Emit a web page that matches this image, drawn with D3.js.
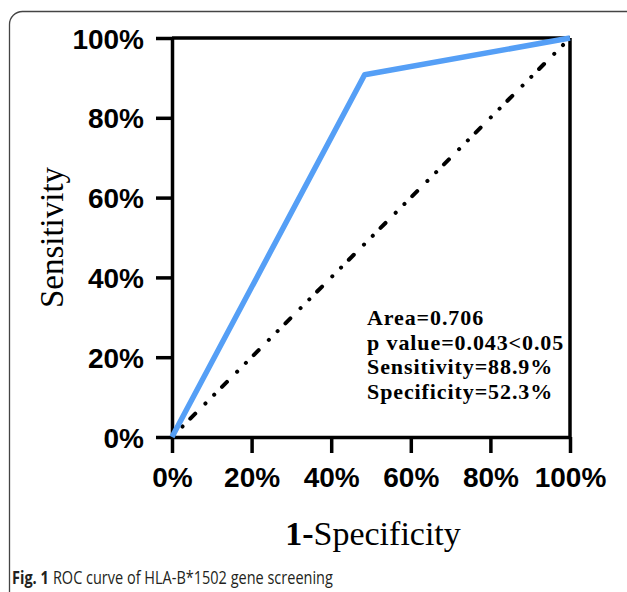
<!DOCTYPE html>
<html><head><meta charset="utf-8">
<script src="https://cdn.jsdelivr.net/npm/d3@7"></script>
<style>body{margin:0;background:#fff}svg{display:block}</style>
</head><body>
<svg id="c" width="627" height="592"></svg>
<script>
const rocX = [0, 0.484, 1];
const rocY = [0, 0.908, 1];
const refX = [0, 1];
const refY = [0, 1];
const tickValues = [0, 0.2, 0.4, 0.6, 0.8, 1];
const tickLabels = ["0%", "20%", "40%", "60%", "80%", "100%"];
const statLines = ["Area=0.706", "p value=0.043<0.05", "Sensitivity=88.9%", "Specificity=52.3%"];
const xTitleBold = "1-";
const xTitleRest = "Specificity";
const yTitle = "Sensitivity";
const captionBold = "Fig. 1";
const captionRest = "ROC curve of HLA-B*1502 gene screening";

const svg = d3.select("#c");
// panel border
svg.append("rect").attr("x", 9.5).attr("y", 11.5).attr("width", 640).attr("height", 600)
  .attr("rx", 13).attr("fill", "none").attr("stroke", "#444").attr("stroke-width", 1.3);

const x = d3.scaleLinear().domain([0, 1]).range([172, 570]);
const y = d3.scaleLinear().domain([0, 1]).range([437, 38]);
const fmt = (d) => tickLabels[tickValues.indexOf(d)];

const g = svg.append("g");
// top & right frame
g.append("line").attr("x1", x(0)).attr("x2", x(1)).attr("y1", y(1)).attr("y2", y(1))
  .attr("stroke", "#000").attr("stroke-width", 3.5);
g.append("line").attr("x1", x(1)).attr("x2", x(1)).attr("y1", y(1)).attr("y2", y(0))
  .attr("stroke", "#000").attr("stroke-width", 3.5);

const xa = g.append("g").attr("transform", `translate(0,${y(0)})`)
  .call(d3.axisBottom(x).tickValues(tickValues).tickFormat(fmt).tickSize(16).tickSizeOuter(0).tickPadding(14));
const ya = g.append("g").attr("transform", `translate(${x(0)},0)`)
  .call(d3.axisLeft(y).tickValues(tickValues).tickFormat(fmt).tickSize(16).tickSizeOuter(0).tickPadding(12));
[xa, ya].forEach(a => {
  a.selectAll("path,line").attr("stroke", "#000").attr("stroke-width", 3.5);
  a.selectAll("text").attr("fill", "#000").style("font-family", "'Liberation Sans', Arial, sans-serif")
    .style("font-weight", "bold").style("font-size", "28px");
});
xa.selectAll("text").attr("dy", "0.71em");
ya.selectAll("text").attr("dy", "0.36em");

// reference diagonal
const line = d3.line().x(d => x(d[0])).y(d => y(d[1]));
g.append("path").datum(refX.map((v, i) => [v, refY[i]])).attr("d", line)
  .attr("fill", "none").attr("stroke", "#000").attr("stroke-width", 4)
  .attr("stroke-linecap", "round").attr("stroke-dasharray", "7,14.4,0.1,12.3,0.1,11")
  .attr("stroke-dashoffset", 19);

// ROC curve
g.append("path").datum(rocX.map((v, i) => [v, rocY[i]])).attr("d", line)
  .attr("fill", "none").attr("stroke", "#559ff6").attr("stroke-width", 5.5)
  .attr("stroke-linejoin", "round");

// stats text
const st = g.append("g");
statLines.forEach((t, i) => {
  st.append("text").attr("x", 367).attr("y", 325 + i * 24.5).text(t)
    .style("font-family", "'Liberation Serif', 'Times New Roman', serif")
    .style("font-weight", "bold").style("font-size", "22px").style("letter-spacing", "0.9px");
});

// axis titles
svg.append("text").attr("transform", `translate(63,${y(0.5)}) rotate(-90)`).attr("text-anchor", "middle")
  .style("font-family", "'Liberation Serif', 'Times New Roman', serif").style("font-size", "33px").text(yTitle);
const xt = svg.append("text").attr("x", x(0.5) + 2).attr("y", 545).attr("text-anchor", "middle")
  .style("font-family", "'Liberation Serif', 'Times New Roman', serif").style("font-size", "34px");
xt.append("tspan").style("font-weight", "bold").text(xTitleBold);
xt.append("tspan").text(xTitleRest);

// caption (condensed by horizontal scale to fit reference width)
const capG = svg.append("g");
const cb = capG.append("text").attr("x", 0).attr("y", 0).attr("fill", "#231f20")
  .style("font-family", "'Open Sans', sans-serif").style("font-size", "17.5px").style("font-weight", "bold")
  .text(captionBold);
const bw = cb.node().getComputedTextLength();
const space = 5;
const cr = capG.append("text").attr("x", bw + space).attr("y", 0).attr("fill", "#231f20")
  .style("font-family", "'Open Sans', sans-serif").style("font-size", "17.5px")
  .text(captionRest);
const total = bw + space + cr.node().getComputedTextLength();
const sx = 321 / total;
capG.attr("transform", `translate(12,584) scale(${sx},1)`);
</script>
</body></html>
